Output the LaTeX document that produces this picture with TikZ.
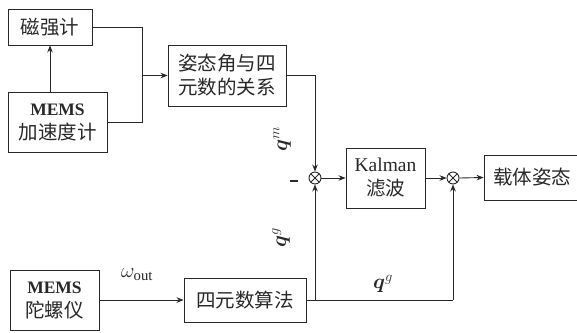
\documentclass[tikz,border=0pt]{standalone}
\usepackage{fontspec}
\setmainfont{Liberation Serif}
\newfontfamily\cjk{Noto Sans CJK SC}
\usepackage{bm}
\usetikzlibrary{arrows.meta}
\definecolor{ink}{RGB}{40,40,40}
\tikzset{
  blk/.style={draw=ink, text=ink, line width=0.9pt, inner sep=0pt, align=center,
    font=\fontsize{19.5}{24}\selectfont\cjk},
  sumc/.style={draw=ink, circle, minimum size=12pt, inner sep=0pt, line width=0.9pt,
    path picture={\draw[ink, line width=0.9pt]
      (path picture bounding box.north west)--(path picture bounding box.south east)
      (path picture bounding box.north east)--(path picture bounding box.south west);}},
  arr/.style={draw=ink, -{Stealth[length=7pt,width=5.5pt]}, line width=0.9pt},
  ln/.style={draw=ink, line width=0.9pt},
  lbl/.style={text=ink, inner sep=0pt}
}
\newcommand{\mems}{{\fontsize{17.5}{24}\selectfont\rmfamily\bfseries MEMS}}
\begin{document}
\begin{tikzpicture}[x=1pt,y=-1pt]
\useasboundingbox (0,0) rectangle (577,332);
% blocks
\node[blk, minimum width=84pt, minimum height=36pt] (mag) at (50,27) {磁强计};
\node[blk, minimum width=99pt, minimum height=60pt] (acc) at (57.5,122) {\mems\\加速度计};
\node[blk, minimum width=118pt, minimum height=61pt] (rel) at (227,75.5) {姿态角与四\\元数的关系};
\node[blk, minimum width=79pt, minimum height=60pt] (kal) at (385.5,178) {{\rmfamily Kalman}\\滤波};
\node[blk, minimum width=96pt, minimum height=45pt] (att) at (532,177.5) {载体姿态};
\node[blk, minimum width=89pt, minimum height=60pt] (gyr) at (54.5,300) {\mems\\陀螺仪};
\node[blk, minimum width=122pt, minimum height=44pt] (qa) at (245,300) {四元数算法};
% summing junctions
\node[sumc] (s1) at (315,178) {};
\node[sumc] (s2) at (453,178) {};
% helper coordinates
\coordinate (j) at (142,75.5);
\coordinate (jt) at (142,27);
\coordinate (jb) at (142,122);
\coordinate (c1) at (315,75.5);
\coordinate (b1) at (315,300);
\coordinate (b2) at (453,300);
% connectors
\draw[ln] (mag.east) -- (jt) -- (jb) -- (acc.east);
\draw[arr] (j) -- (rel.west);
\draw[arr] (mag.south |- acc.north) -- (mag.south);
\draw[arr] (rel.east) -- (c1) -- (s1.north);
\draw[arr] (s1.east) -- (kal.west);
\draw[arr] (kal.east) -- (s2.west);
\draw[arr] (s2.east) -- (att.west);
\draw[arr] (gyr.east) -- (qa.west);
\draw[ln] (qa.east) -- (b2);
\draw[arr] (b1) -- (s1.south);
\draw[arr] (b2) -- (s2.south);
% labels
\node[lbl, rotate=90] (qm) at (282,139) {\fontsize{22}{22}\selectfont$\bm{q}^{m}$};
\node[lbl, rotate=90] (qg1) at (281,238) {\fontsize{22}{22}\selectfont$\bm{q}^{g}$};
\node[lbl] (qg2) at (383,284) {\fontsize{22}{22}\selectfont$\bm{q}^{g}$};
\node[lbl] (w) at (137,275) {\fontsize{21}{21}\selectfont$\omega_{\mathrm{out}}$};
\node[lbl] (minus) at (294,181) {\rule{8pt}{1.8pt}};
\end{tikzpicture}
\end{document}
